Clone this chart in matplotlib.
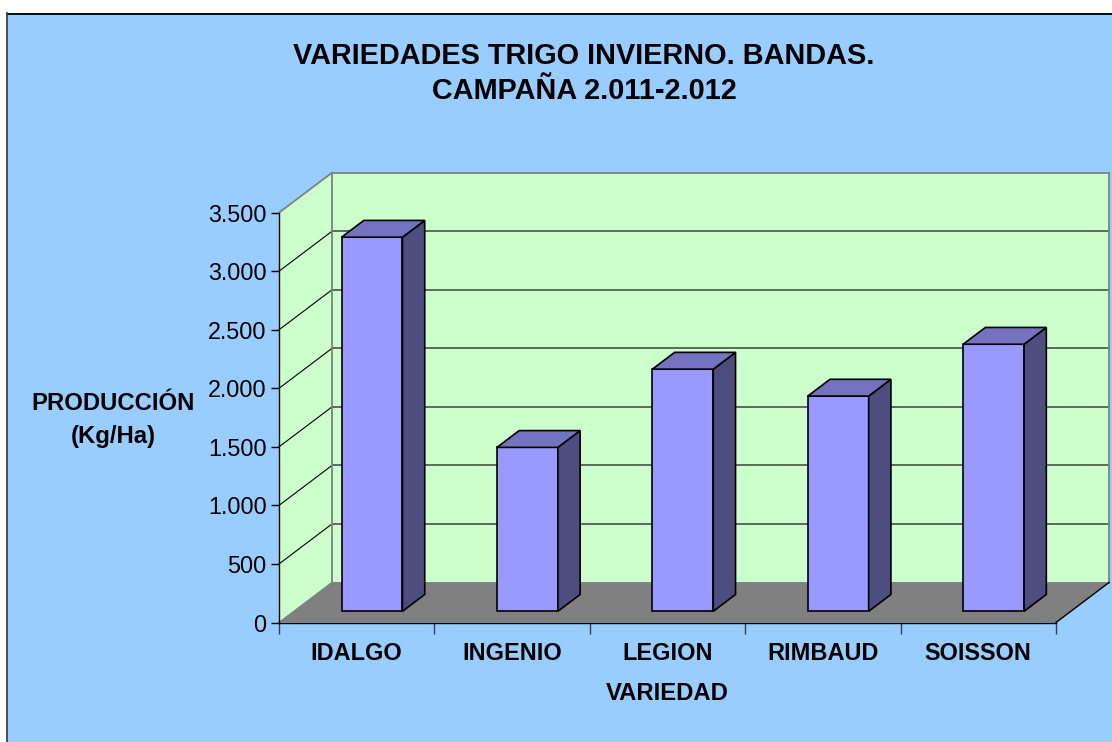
import matplotlib
matplotlib.use("Agg")
import matplotlib.pyplot as plt
from matplotlib.patches import Polygon, Rectangle
from matplotlib.lines import Line2D
from matplotlib.transforms import IdentityTransform
import numpy as np

categories = ["IDALGO", "INGENIO", "LEGION", "RIMBAUD", "SOISSON"]
values = [3195, 1400, 2068, 1838, 2281]
y_ticks = [0, 500, 1000, 1500, 2000, 2500, 3000, 3500]
y_tick_labels = ["0", "500", "1.000", "1.500", "2.000", "2.500", "3.000", "3.500"]

W, H = 1112, 742
plt.rcParams['font.family'] = ['Liberation Sans', 'DejaVu Sans']
fig = plt.figure(figsize=(W / 100, H / 100), dpi=100, facecolor='white')

BG, WALL, FLOOR = '#99CCFF', '#CCFFCC', '#808080'
FRONT, SIDE, TOP = '#9999FF', '#4D4D80', '#7373BF'
GRID = '#404040'

# chart area
fig.add_artist(Rectangle((7 / W, 0), (W - 7) / W, (H - 13) / H, transform=fig.transFigure,
                         facecolor=BG, edgecolor='none', zorder=-5))
fig.add_artist(Line2D([7 / W, 1], [(H - 13.5) / H] * 2, color='black', lw=1.3, zorder=-4))
fig.add_artist(Line2D([6.5 / W] * 2, [0, (H - 13) / H], color='#404040', lw=1.3, zorder=-4))

ax = fig.add_axes([279 / W, (H - 622.5) / H, 777 / W, 409.8 / H])
ax.set_xlim(0, len(categories))
ax.set_ylim(0, 3500)
ax.patch.set_visible(False)
for s in ('top', 'right'):
    ax.spines[s].set_visible(False)
for s in ('left', 'bottom'):
    ax.spines[s].set_linewidth(1.0)
    ax.spines[s].set_zorder(20)

DX, DY = 53, 40


def proj(x, y, d=0.0):
    px = ax.transData.transform((x, y))
    return (px[0] + DX * d, px[1] + DY * d)


def poly(points, **kw):
    p = Polygon([proj(*q) for q in points], closed=True, transform=IdentityTransform(),
                clip_on=False, **kw)
    ax.add_patch(p)


def line(a, b, **kw):
    pa, pb = proj(*a), proj(*b)
    ax.add_line(Line2D([pa[0], pb[0]], [pa[1], pb[1]], transform=IdentityTransform(),
                       clip_on=False, **kw))


n = len(categories)
ymax = y_ticks[-1]
# walls and floor
poly([(0, 0, 1), (n, 0, 1), (n, ymax, 1), (0, ymax, 1)], facecolor=WALL, edgecolor='none', zorder=1)
poly([(0, 0, 0), (0, 0, 1), (0, ymax, 1), (0, ymax, 0)], facecolor=WALL, edgecolor='none', zorder=1)
poly([(0, 0, 0), (n, 0, 0), (n, 0, 1), (0, 0, 1)], facecolor=FLOOR, edgecolor='none', zorder=2)
# grid lines
for t in y_ticks[1:-1]:
    line((0, t, 1), (n, t, 1), color=GRID, lw=1.1, zorder=3)
    line((0, t, 0), (0, t, 1), color='black', lw=0.8, zorder=3)
# wall outline
line((0, ymax, 0), (0, ymax, 1), color=FLOOR, lw=1.3, zorder=3)
line((0, ymax, 1), (n, ymax, 1), color=FLOOR, lw=1.3, zorder=3)
line((0, 0, 1), (0, ymax, 1), color=FLOOR, lw=1.3, zorder=3)
line((n, 0, 1), (n, ymax, 1), color=FLOOR, lw=1.3, zorder=3)
line((0, 0, 1), (n, 0, 1), color=FLOOR, lw=1.3, zorder=3)
line((0, 0, 0), (0, 0, 1), color=FLOOR, lw=1.0, zorder=3)
line((n, 0, 0), (n, 0, 1), color='black', lw=1.0, zorder=3)

# bars
half = 0.196
d0, d1 = 0.28, 0.70
edge = dict(edgecolor='black', lw=1.2, joinstyle='miter', zorder=5)
for i, v in enumerate(values):
    c = i + 0.5 + 0.003
    l, r = c - half, c + half
    poly([(l, 0, d0), (r, 0, d0), (r, v, d0), (l, v, d0)], facecolor=FRONT, **edge)
    poly([(r, 0, d0), (r, 0, d1), (r, v, d1), (r, v, d0)], facecolor=SIDE, **edge)
    poly([(l, v, d0), (r, v, d0), (r, v, d1), (l, v, d1)], facecolor=TOP, **edge)

# axes ticks and labels
ax.set_yticks(y_ticks)
ax.set_yticklabels(y_tick_labels)
ax.tick_params(axis='y', length=6, width=1.0, labelsize=16.8, pad=3)
ax.set_xticks(np.arange(n + 1))
ax.set_xticklabels([])
ax.tick_params(axis='x', which='major', length=8, width=1.0, color='#304050')
ax.set_xticks(np.arange(n) + 0.5, minor=True)
ax.set_xticklabels(categories, minor=True, fontweight='bold', fontsize=16.9)
ax.tick_params(axis='x', which='minor', length=0, pad=14)

fig.text(584 / W, 1 - 56 / H, "VARIEDADES TRIGO INVIERNO. BANDAS.", ha='center', va='center',
         fontsize=20.8, fontweight='bold')
fig.text(584.5 / W, 1 - 91 / H, "CAMPAÑA 2.011-2.012", ha='center', va='center',
         fontsize=20.8, fontweight='bold')
fig.text(113 / W, 1 - 403 / H, "PRODUCCIÓN", ha='center', va='center', fontsize=17.2, fontweight='bold')
fig.text(113 / W, 1 - 436 / H, "(Kg/Ha)", ha='center', va='center', fontsize=17.2, fontweight='bold')
fig.text(667 / W, 1 - 694 / H, "VARIEDAD", ha='center', va='center', fontsize=17.2, fontweight='bold')

fig.savefig("out.png", dpi=100, facecolor='white')
